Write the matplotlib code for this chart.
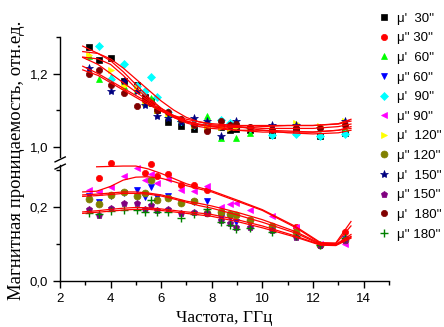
import numpy as np
import matplotlib
matplotlib.use('Agg')
import matplotlib.pyplot as plt
from matplotlib.ticker import MultipleLocator, FuncFormatter

nan = np.nan

# measured frequencies, GHz
freq = [3.16, 3.56, 4.03, 4.54, 5.03, 5.38, 5.60, 5.82, 6.28, 6.77,
        7.29, 7.83, 8.38, 8.70, 8.97, 9.50, 10.37, 11.31, 12.27, 13.27]

# real part mu'
mu1_30 = [1.273, 1.238, 1.243, 1.179, 1.170, 1.135, 1.125, 1.100, 1.068, 1.057,
          1.049, 1.050, 1.055, 1.045, 1.048, 1.045, 1.033, 1.045, 1.028, 1.037]
mu1_60 = [1.247, 1.184, 1.190, 1.165, 1.155, 1.125, 1.133, 1.105, 1.090, 1.075,
          1.065, 1.083, 1.024, 1.060, 1.024, 1.038, 1.037, 1.040, 1.035, 1.051]
mu1_90 = [nan, 1.275, 1.184, 1.225, 1.165, 1.153, 1.191, 1.136, 1.095, 1.070,
          1.060, 1.065, 1.074, 1.065, 1.060, 1.050, 1.033, 1.035, 1.028, 1.035]
mu1_120 = [1.250, nan, 1.211, 1.165, 1.161, 1.120, 1.120, 1.100, 1.090, 1.075,
           1.060, 1.055, 1.055, 1.050, 1.055, 1.050, 1.050, 1.065, 1.056, 1.069]
mu1_150 = [1.216, nan, 1.152, 1.179, 1.152, 1.115, 1.120, 1.083, 1.079, 1.068,
           1.079, 1.070, 1.028, 1.060, 1.069, 1.050, 1.060, 1.060, 1.050, 1.069]
mu1_180 = [1.199, 1.211, 1.170, 1.147, 1.110, 1.129, 1.120, 1.101, 1.095, 1.075,
           1.060, 1.042, 1.071, 1.060, 1.062, 1.053, 1.045, 1.050, 1.050, 1.060]

# imaginary part mu''
mu2_30 = [nan, 0.277, 0.317, nan, nan, 0.290, 0.315, 0.284, 0.288, 0.259,
          0.259, 0.246, 0.182, nan, nan, nan, nan, 0.144, 0.097, 0.131]
mu2_60 = [0.230, 0.214, 0.230, 0.236, 0.245, 0.227, 0.252, 0.225, 0.229, 0.209,
          0.212, 0.216, 0.169, 0.169, 0.160, 0.155, 0.137, 0.124, 0.096, 0.112]
mu2_90 = [0.245, 0.239, 0.252, 0.284, 0.304, 0.272, 0.288, 0.265, 0.274, 0.245,
          0.243, 0.256, 0.200, 0.207, 0.211, 0.191, 0.174, 0.144, 0.099, 0.099]
mu2_120 = [0.220, 0.207, 0.232, 0.239, 0.230, 0.236, 0.272, 0.218, 0.223, 0.209,
           0.216, 0.182, 0.185, 0.180, 0.178, 0.164, 0.148, 0.132, 0.097, 0.110]
mu2_150 = [0.193, 0.178, 0.196, 0.211, 0.209, 0.193, 0.205, 0.191, 0.193, 0.182,
           0.186, 0.184, 0.164, 0.157, 0.146, 0.144, 0.137, 0.117, 0.097, 0.110]
mu2_180 = [0.184, 0.180, 0.189, 0.191, 0.191, 0.185, 0.218, 0.186, 0.186, 0.169,
           0.180, 0.193, 0.159, 0.151, 0.139, 0.142, 0.132, 0.121, 0.097, 0.115]

# fitted curves
fitX1 = [2.9, 3.5, 4.0, 4.5, 5.0, 5.5, 6.0, 6.5, 7.0, 7.5, 8.0, 9.0, 10.0, 11.0, 12.0, 13.0, 13.5]
fit1 = [
    [1.275, 1.255, 1.235, 1.205, 1.170, 1.135, 1.105, 1.080, 1.065, 1.055, 1.050, 1.045, 1.045, 1.043, 1.040, 1.045, 1.050],
    [1.260, 1.255, 1.240, 1.215, 1.185, 1.155, 1.125, 1.100, 1.080, 1.068, 1.060, 1.055, 1.045, 1.038, 1.035, 1.038, 1.045],
    [1.245, 1.240, 1.225, 1.195, 1.160, 1.130, 1.105, 1.085, 1.070, 1.060, 1.055, 1.052, 1.055, 1.058, 1.058, 1.063, 1.075],
    [1.244, 1.225, 1.200, 1.175, 1.150, 1.125, 1.100, 1.080, 1.067, 1.060, 1.055, 1.045, 1.040, 1.040, 1.040, 1.045, 1.055],
    [1.220, 1.200, 1.180, 1.160, 1.140, 1.120, 1.100, 1.085, 1.075, 1.068, 1.063, 1.058, 1.058, 1.058, 1.058, 1.062, 1.070],
    [1.210, 1.195, 1.175, 1.155, 1.135, 1.115, 1.097, 1.082, 1.070, 1.062, 1.057, 1.055, 1.050, 1.050, 1.050, 1.055, 1.062],
]
fitX2 = [2.9, 3.45, 4.0, 4.5, 5.0, 5.5, 6.0, 6.5, 7.0, 7.5, 8.0, 9.0, 10.0, 11.3, 12.3, 12.9, 13.5]
fit2 = [
    [nan, 0.308, 0.309, 0.310, 0.310, 0.302, 0.290, 0.276, 0.262, 0.252, 0.243, 0.218, 0.192, 0.147, 0.103, 0.102, 0.160],
    [0.240, 0.242, 0.255, 0.272, 0.280, 0.281, 0.277, 0.268, 0.257, 0.248, 0.240, 0.215, 0.190, 0.144, 0.101, 0.100, 0.148],
    [0.232, 0.234, 0.237, 0.240, 0.240, 0.237, 0.232, 0.224, 0.215, 0.209, 0.202, 0.185, 0.165, 0.133, 0.100, 0.098, 0.125],
    [0.228, 0.230, 0.233, 0.236, 0.236, 0.234, 0.229, 0.221, 0.212, 0.203, 0.196, 0.178, 0.158, 0.129, 0.098, 0.097, 0.120],
    [0.186, 0.189, 0.193, 0.196, 0.198, 0.197, 0.194, 0.190, 0.186, 0.183, 0.179, 0.165, 0.148, 0.121, 0.097, 0.096, 0.118],
    [0.182, 0.185, 0.188, 0.191, 0.193, 0.193, 0.190, 0.186, 0.182, 0.178, 0.174, 0.160, 0.143, 0.118, 0.096, 0.095, 0.115],
]

labels = ["\u03bc'  30''", "\u03bc'' 30''", "\u03bc'  60''", "\u03bc'' 60''",
          "\u03bc'  90''", "\u03bc'' 90''", "\u03bc'  120''", "\u03bc'' 120''",
          "\u03bc'  150''", "\u03bc'' 150''", "\u03bc'  180''", "\u03bc'' 180''"]
seriesList = [mu1_30, mu2_30, mu1_60, mu2_60, mu1_90, mu2_90,
              mu1_120, mu2_120, mu1_150, mu2_150, mu1_180, mu2_180]
colors = ['#000000', '#ff0000', '#00ff00', '#0000ff', '#00ffff', '#ff00ff',
          '#ffff00', '#808000', '#000080', '#800080', '#800000', '#008000']
markers = ['s', 'o', '^', 'v', 'D', '<', '>', 'o', '*', 'p', 'o', '+']
sizes = [4.5, 4.5, 5, 5, 4.5, 5, 5, 5, 6, 5, 4.5, 6]

fig = plt.figure(figsize=(4.44, 3.27), dpi=100)
axTop = fig.add_axes([0.135, 0.520, 0.741, 0.367])
axBot = fig.add_axes([0.135, 0.1416, 0.741, 0.354])

handles = []
for i, vals in enumerate(seriesList):
    ax = axTop if i % 2 == 0 else axBot
    h, = ax.plot(freq, vals, linestyle='none', marker=markers[i], color=colors[i],
                 markersize=sizes[i], markeredgewidth=1.0 if markers[i] == '+' else 0.5,
                 markeredgecolor=colors[i], zorder=2, clip_on=False)
    handles.append(h)

for f in fit1:
    axTop.plot(fitX1, f, color='#ff0000', lw=0.9, zorder=3)
for f in fit2:
    axBot.plot(fitX2, f, color='#ff0000', lw=0.9, zorder=3, clip_on=False)

commaFmt = FuncFormatter(lambda v, p: ('%.1f' % v).replace('.', ','))
tickFont = 'Liberation Sans'

for ax in (axTop, axBot):
    ax.set_xlim(2, 15)
    ax.spines['top'].set_visible(False)
    ax.spines['right'].set_visible(False)
    ax.spines['left'].set_linewidth(1.0)
    ax.yaxis.set_major_locator(MultipleLocator(0.2))
    ax.yaxis.set_minor_locator(MultipleLocator(0.1))
    ax.yaxis.set_major_formatter(commaFmt)
    ax.tick_params(axis='y', which='major', direction='out', length=5, width=1.0, labelsize=9.5)
    ax.tick_params(axis='y', which='minor', direction='out', length=3, width=1.0)
    for lab in ax.get_yticklabels():
        lab.set_family(tickFont)

axTop.set_ylim(0.972, 1.30)
axTop.spines['bottom'].set_visible(False)
axTop.tick_params(axis='x', which='both', bottom=False, labelbottom=False)

axBot.set_ylim(0.0, 0.313)
axBot.spines['bottom'].set_linewidth(1.0)
axBot.xaxis.set_major_locator(MultipleLocator(2))
axBot.xaxis.set_minor_locator(MultipleLocator(1))
axBot.tick_params(axis='x', which='major', direction='out', length=5, width=1.0, labelsize=9.5)
axBot.tick_params(axis='x', which='minor', direction='out', length=3, width=1.0)
for lab in axBot.get_xticklabels() + axBot.get_yticklabels():
    lab.set_family(tickFont)

# axis break marks
for dy in (-0.022, 0.0):
    fig.add_artist(plt.Line2D([0.124, 0.147], [0.505 + dy, 0.520 + dy],
                              transform=fig.transFigure, color='black', lw=1.0))

fig.text(0.038, 0.51, 'Магнитная проницаемость, отн.ед.', rotation=90,
         ha='center', va='center', family='Liberation Serif', fontsize=13.5)
fig.text(0.505, 0.028, 'Частота, ГГц', ha='center', va='center',
         family='Liberation Serif', fontsize=12.5)

fig.legend(handles, labels, loc='upper left', bbox_to_anchor=(0.835, 0.982),
           frameon=False, handlelength=1.0, handletextpad=0.5, borderpad=0,
           labelspacing=0.56, prop={'family': 'Liberation Sans', 'size': 9.5})

fig.savefig('out.png', dpi=100)
